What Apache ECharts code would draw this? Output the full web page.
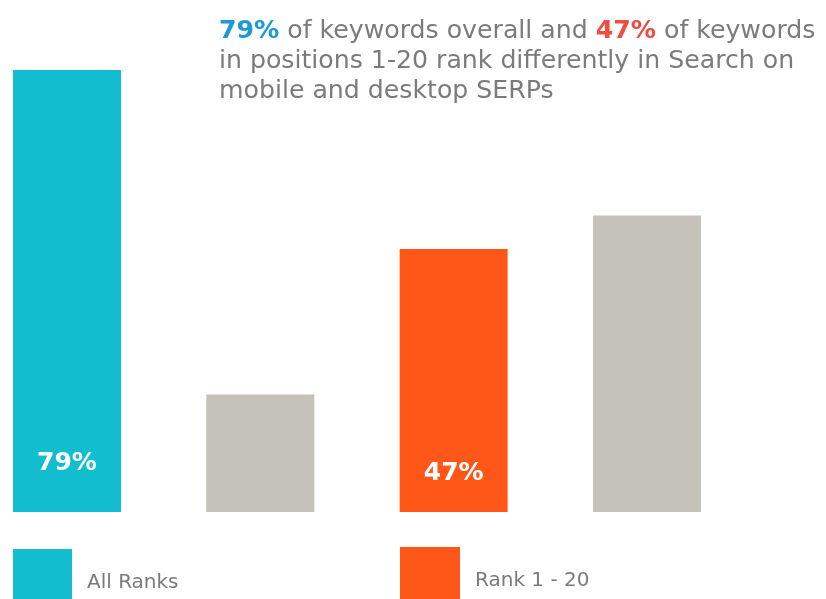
<!DOCTYPE html>
<html>
<head>
<meta charset="utf-8">
<script src="https://cdn.jsdelivr.net/npm/echarts@6/dist/echarts.min.js"></script>
<style>
html,body{margin:0;padding:0;background:#fff;}
#chart{width:826px;height:599px;}
</style>
</head>
<body>
<div id="chart"></div>
<script>
var categories = ['All Ranks - differ', 'All Ranks - same', 'Rank 1 - 20 - differ', 'Rank 1 - 20 - same'];
var allRanks = [79, 21, null, null];
var rank120 = [null, null, 47, 53];
var seriesNames = ['All Ranks', 'Rank 1 - 20'];

var TEAL = '#12bdd0', GRAY = '#c5c2ba', ORANGE = '#ff5718';
var FONT = '"DejaVu Sans", sans-serif';

function build(values, mainColor, grayIndex, labelDist) {
  return values.map(function (v, i) {
    if (v === null) return '-';
    var item = { value: v };
    if (i === grayIndex) {
      item.itemStyle = { color: GRAY };
    } else {
      item.label = {
        show: true, position: 'insideBottom', distance: labelDist,
        formatter: '{c}%', color: '#fff', fontFamily: FONT,
        fontWeight: 'bold', fontSize: 25
      };
    }
    return item;
  });
}

var legendText = {
  fontFamily: FONT, fontSize: 20, color: '#7b7b7b',
  rich: { a: { fontFamily: FONT, fontSize: 20, color: '#7b7b7b', padding: [15, 0, 0, 10] } }
};

var chart = echarts.init(document.getElementById('chart'));
chart.setOption({
  animation: false,
  backgroundColor: '#fff',
  title: {
    left: 214, top: 11,
    text: '{b|79%} of keywords overall and {r|47%} of keywords\nin positions 1-20 rank differently in Search on\nmobile and desktop SERPs',
    textStyle: {
      fontFamily: FONT, fontSize: 25.2, fontWeight: 'normal', color: '#7b7b7b', lineHeight: 30,
      rich: {
        b: { fontFamily: FONT, fontSize: 25.2, fontWeight: 'bold', color: '#1b9bd5', lineHeight: 30 },
        r: { fontFamily: FONT, fontSize: 25.2, fontWeight: 'bold', color: '#f24c42', lineHeight: 30 }
      }
    }
  },
  legend: [
    { data: [seriesNames[0]], left: 13, top: 549, padding: 0, icon: 'rect', itemWidth: 59, itemHeight: 52,
      formatter: '{a|{name}}', textStyle: legendText },
    { data: [seriesNames[1]], left: 400, top: 547, padding: 0, icon: 'rect', itemWidth: 60, itemHeight: 52,
      formatter: '{a|{name}}', textStyle: legendText }
  ],
  grid: { left: 67, right: 179, top: 70, bottom: 87 },
  xAxis: { type: 'category', data: categories, boundaryGap: false, show: false },
  yAxis: { type: 'value', min: 0, max: 79, show: false, splitLine: { show: false } },
  series: [
    { name: seriesNames[0], type: 'bar', stack: 's', barWidth: 108, color: TEAL,
      data: build(allRanks, TEAL, 1, 36) },
    { name: seriesNames[1], type: 'bar', stack: 's', barWidth: 108, color: ORANGE,
      data: build(rank120, ORANGE, 3, 26) }
  ]
});
</script>
</body>
</html>
